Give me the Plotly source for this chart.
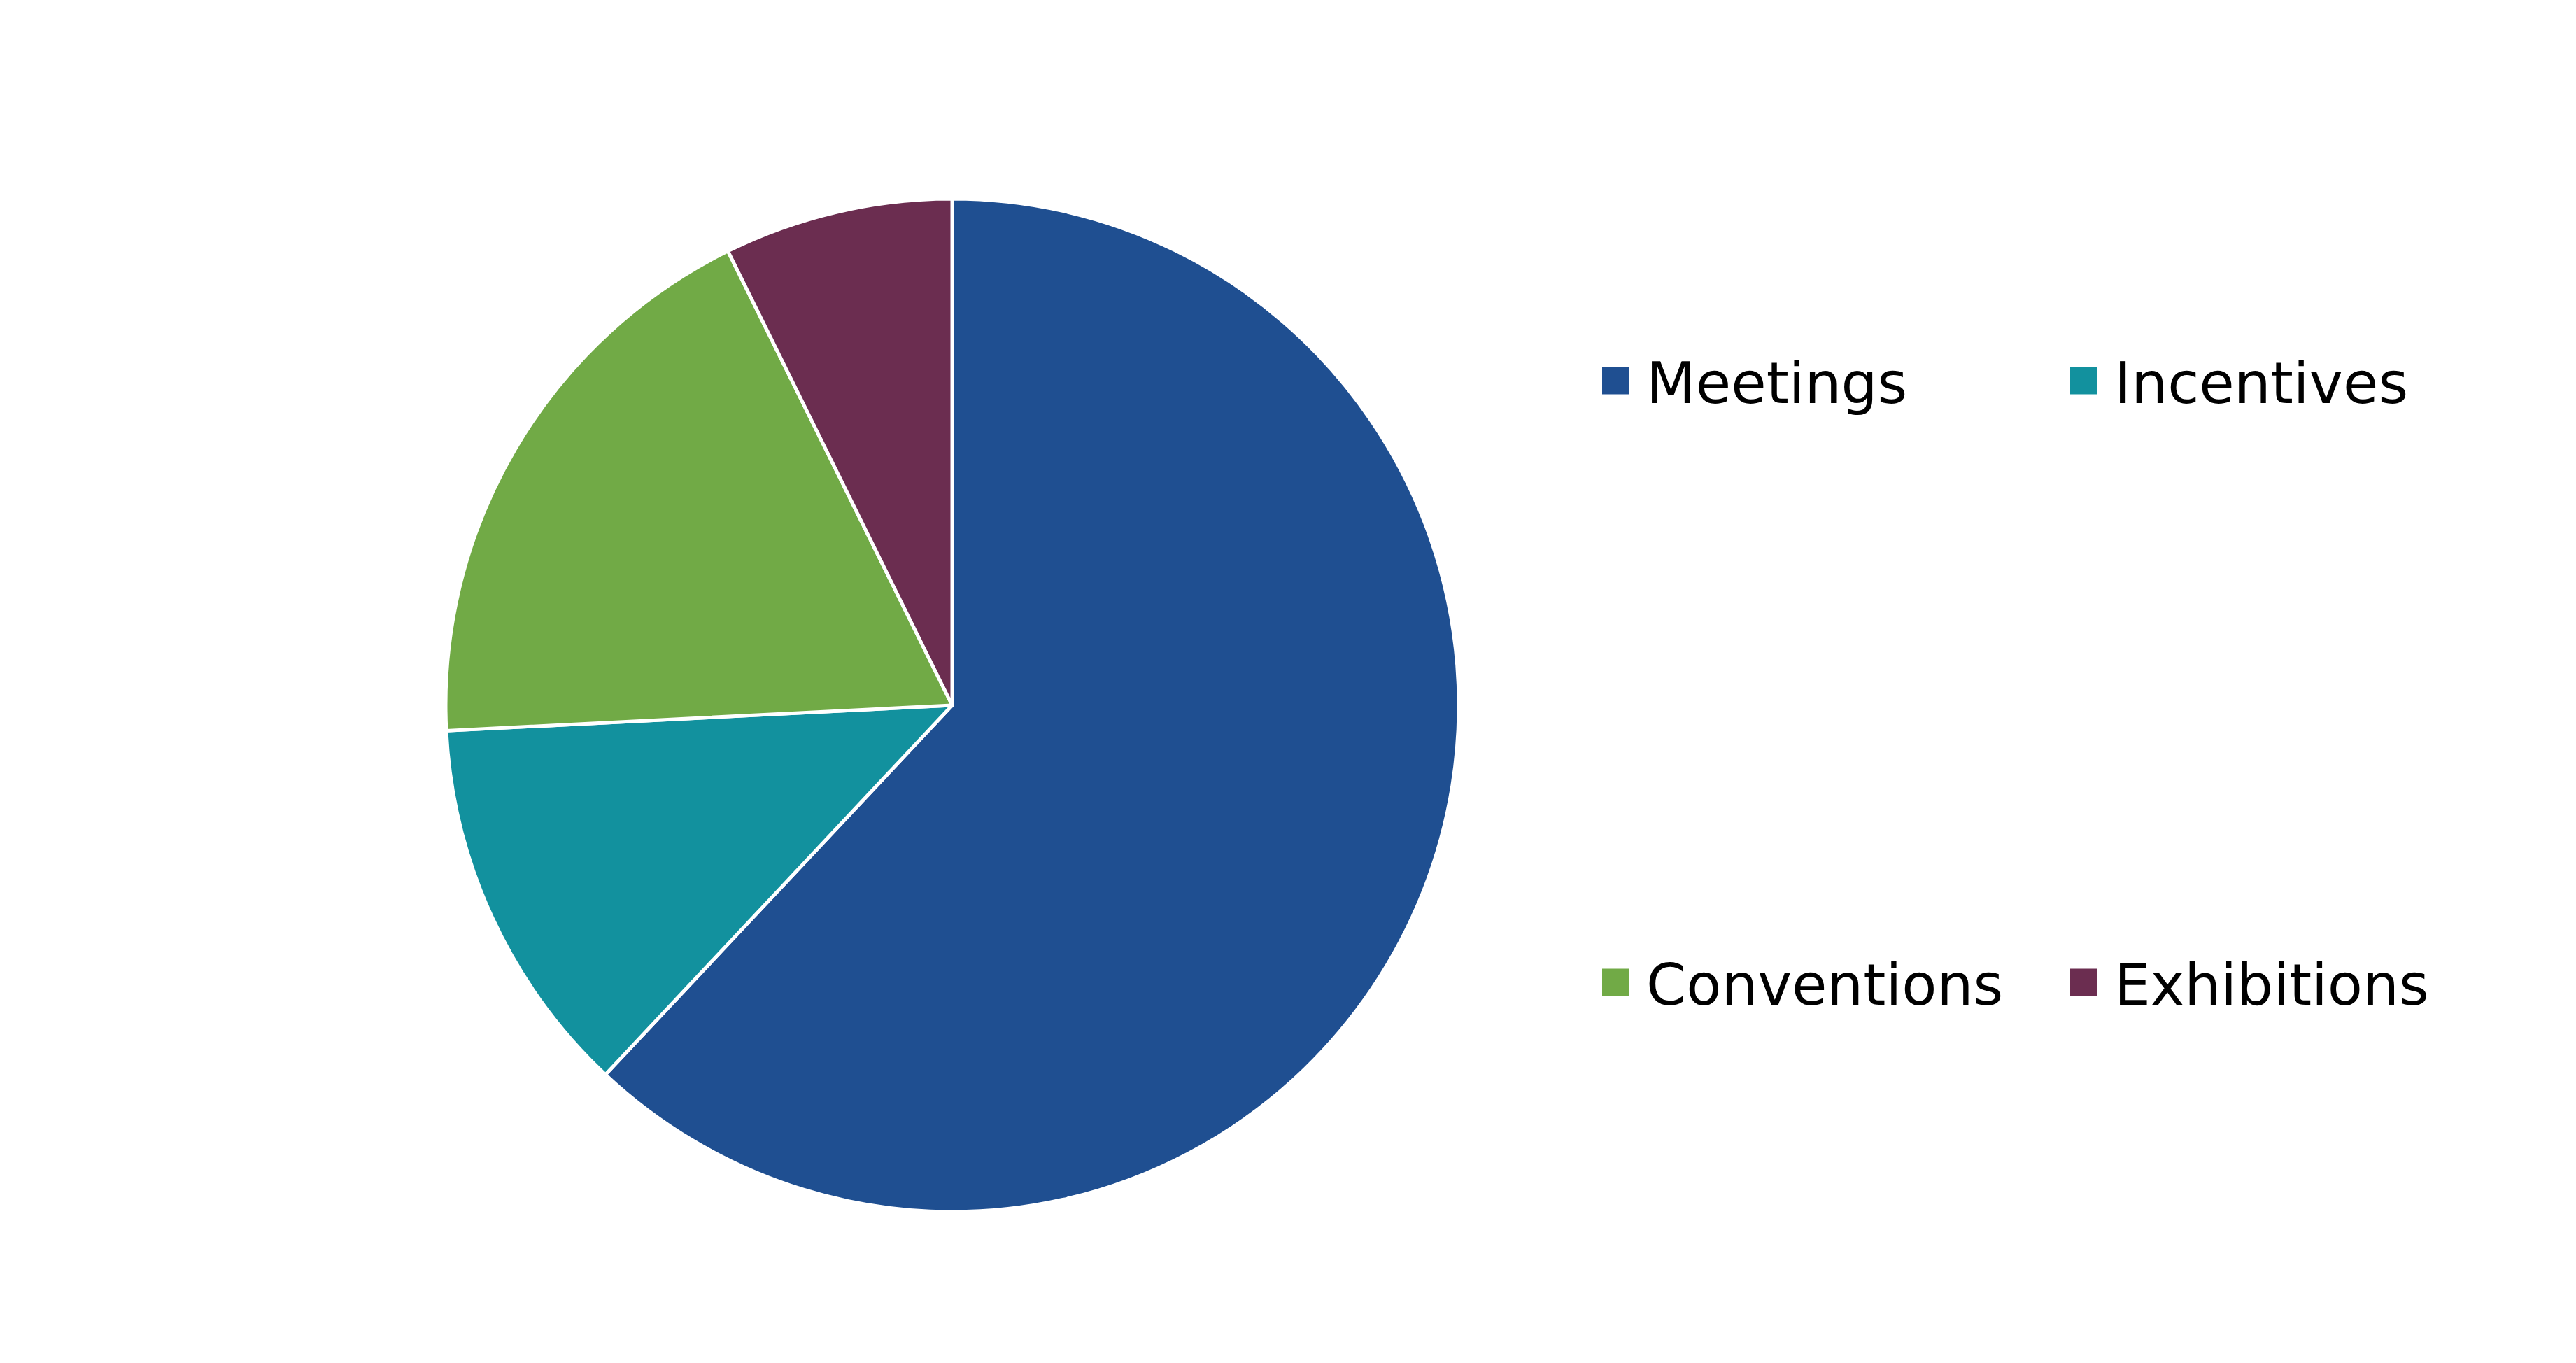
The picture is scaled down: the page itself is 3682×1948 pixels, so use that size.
import plotly.graph_objects as go

# ---- data ----
categories = ["Meetings", "Incentives", "Conventions", "Exhibitions"]
values = [62.0, 12.2, 18.5, 7.3]
colors = ["#1F4F91", "#12919E", "#71AA46", "#6B2D50"]

W, H = 3682, 1948
FONT = "DejaVu Sans"

fig = go.Figure()
fig.add_trace(go.Pie(
    labels=categories,
    values=values,
    sort=False,
    direction="clockwise",
    rotation=0,
    textinfo="none",
    hoverinfo="label+percent",
    marker=dict(colors=colors, line=dict(color="white", width=5)),
    domain=dict(x=[(1361 - 724) / W, (1361 + 724) / W],
                y=[1 - (1008 + 724) / H, 1 - (1008 - 724) / H]),
    showlegend=False,
))

# custom legend (2 columns x 2 rows)
col_x = [2290, 2959]   # left edge of the swatch, px
row_y = [544, 1404]    # centre of the row, px
sw = 39
for i, (name, col) in enumerate(zip(categories, colors)):
    cx = col_x[i % 2]
    cy = row_y[i // 2]
    fig.add_shape(type="rect", xref="paper", yref="paper",
                  x0=cx / W, x1=(cx + sw) / W,
                  y0=1 - (cy + sw / 2) / H, y1=1 - (cy - sw / 2) / H,
                  fillcolor=col, line=dict(width=0))
    fig.add_annotation(xref="paper", yref="paper",
                       x=(cx + sw + 22) / W, y=1 - (cy + 3) / H,
                       xanchor="left", yanchor="middle",
                       text=name, showarrow=False,
                       font=dict(family=FONT, size=82, color="black"))

fig.update_layout(
    width=W, height=H,
    margin=dict(l=0, r=0, t=0, b=0),
    paper_bgcolor="white",
    plot_bgcolor="white",
    font=dict(family=FONT, color="black"),
)

fig.write_html("out.html", config={"displayModeBar": False},
               post_script="document.body.style.margin='0';")
